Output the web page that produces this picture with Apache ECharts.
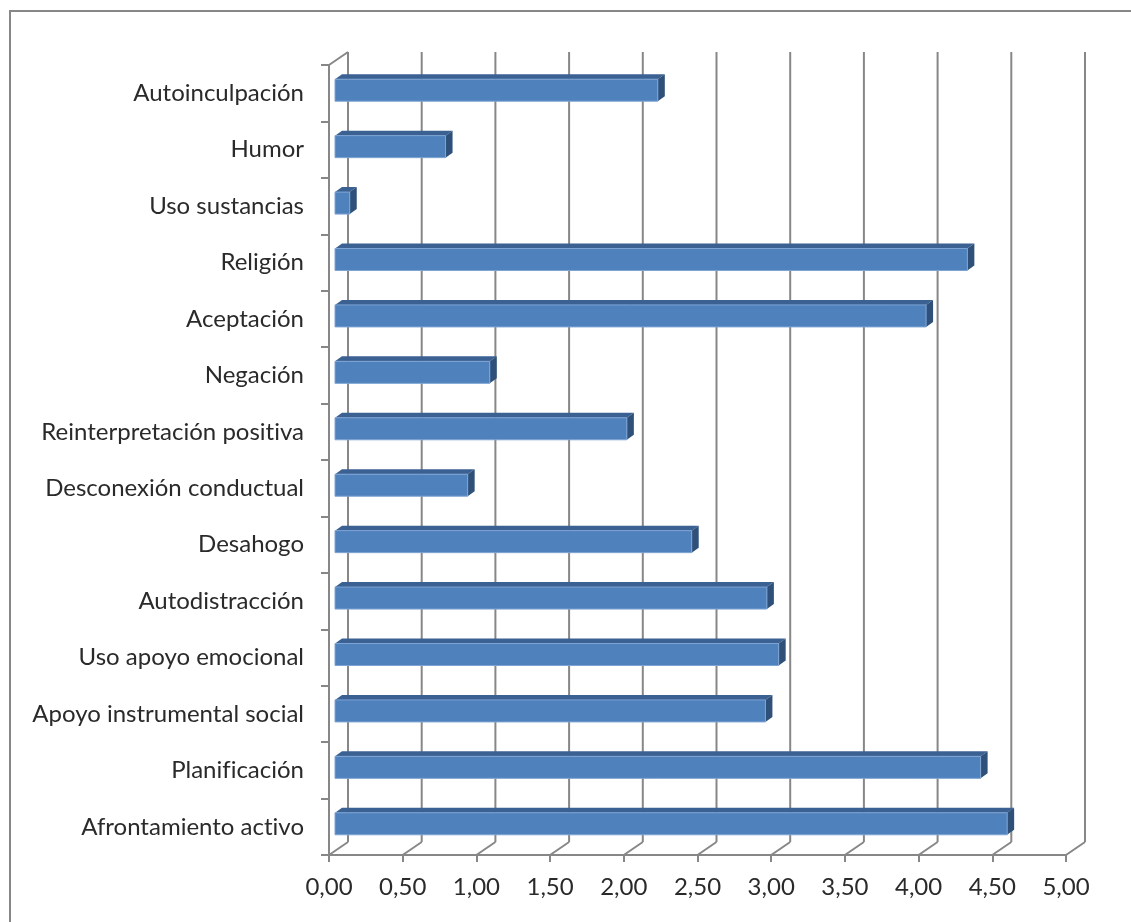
<!DOCTYPE html>
<html>
<head>
<meta charset="utf-8">
<script src="https://cdn.jsdelivr.net/npm/echarts@6/dist/echarts.min.js"></script>
<style>
  html, body { margin: 0; padding: 0; background: #ffffff; }
  #chart { width: 1131px; height: 922px; }
</style>
</head>
<body>
<div id="chart"></div>
<script>
// Coping strategies (bottom to top) and their mean scores
const categories = [
  'Afrontamiento activo',
  'Planificación',
  'Apoyo instrumental social',
  'Uso apoyo emocional',
  'Autodistracción',
  'Desahogo',
  'Desconexión conductual',
  'Reinterpretación positiva',
  'Negación',
  'Aceptación',
  'Religión',
  'Uso sustancias',
  'Humor',
  'Autoinculpación'
];
const values = [4.56, 4.38, 2.92, 3.01, 2.93, 2.42, 0.90, 1.98, 1.05, 4.01, 4.29, 0.10, 0.75, 2.19];

// Value-axis ticks
const tickValues = [0, 0.5, 1, 1.5, 2, 2.5, 3, 3.5, 4, 4.5, 5];
const formatTick = v => v.toFixed(2).replace('.', ',');
// Keep "fi" / "ti" as separate glyphs (no typographic ligatures)
const plainGlyphs = s => s.replace(/([ft])(i)/g, '$1\u200C$2');

// Oblique 3D look: offset of the back wall and of the bars
const WALL_DX = 19, WALL_DY = -13;
const BAR_FRONT_DX = 6, BAR_FRONT_DY = -3;
const BAR_DEPTH_DX = 7, BAR_DEPTH_DY = -5;
const BAR_HEIGHT_RATIO = 0.39;

const GRID_COLOR = '#878787';
const TEXT_COLOR = '#2a2a2a';
const FONT = 'Lato, "Open Sans", sans-serif';

const chart = echarts.init(document.getElementById('chart'), null, { renderer: 'canvas' });

// Back wall gridlines plus the floor diagonals joining them to the front axis
function renderWall(params, api) {
  const cs = params.coordSys;
  const v = api.value(0);
  const x = api.coord([v, 0])[0];
  const top = cs.y, bottom = cs.y + cs.height;
  const style = { stroke: GRID_COLOR, lineWidth: 2, fill: null };
  const children = [
    { type: 'line', shape: { x1: x + WALL_DX, y1: top + WALL_DY, x2: x + WALL_DX, y2: bottom + WALL_DY }, style },
    { type: 'line', shape: { x1: x, y1: bottom, x2: x + WALL_DX, y2: bottom + WALL_DY }, style }
  ];
  if (v === 0) {
    children.push({ type: 'line', shape: { x1: x, y1: top, x2: x + WALL_DX, y2: top + WALL_DY }, style });
  }
  return { type: 'group', children };
}

// Each bar as a box: front face, top face and right side face
function renderBar(params, api) {
  const v = api.value(0);
  const i = api.value(1);
  const p0 = api.coord([0, i]);
  const p1 = api.coord([v, i]);
  const band = api.size([0, 1])[1];
  const h = band * BAR_HEIGHT_RATIO;
  const x0 = p0[0] + BAR_FRONT_DX;
  const x1 = p1[0] + BAR_FRONT_DX;
  const yc = p0[1] + BAR_FRONT_DY;
  const y0 = yc - h / 2, y1 = yc + h / 2;
  return {
    type: 'group',
    children: [
      { type: 'polygon', shape: { points: [[x0, y0], [x1, y0], [x1 + BAR_DEPTH_DX, y0 + BAR_DEPTH_DY], [x0 + BAR_DEPTH_DX, y0 + BAR_DEPTH_DY]] },
        style: { fill: '#3b6193' } },
      { type: 'polygon', shape: { points: [[x1, y0], [x1 + BAR_DEPTH_DX, y0 + BAR_DEPTH_DY], [x1 + BAR_DEPTH_DX, y1 + BAR_DEPTH_DY], [x1, y1]] },
        style: { fill: '#2e5079' } },
      { type: 'rect', shape: { x: x0, y: y0, width: x1 - x0, height: h },
        style: { fill: '#4f81bd', stroke: '#7ea4d4', lineWidth: 1 } }
    ]
  };
}

chart.setOption({
  animation: false,
  backgroundColor: '#ffffff',
  graphic: [{
    type: 'rect',
    shape: { x: 10, y: 11, width: 1200, height: 1000 },
    style: { fill: null, stroke: GRID_COLOR, lineWidth: 2 },
    silent: true,
    z: -10
  }],
  grid: { left: 329, right: 65, top: 65, bottom: 67 },
  xAxis: {
    type: 'value',
    min: 0,
    max: 5,
    interval: 0.5,
    axisLine: { show: true, lineStyle: { color: GRID_COLOR, width: 2 } },
    axisTick: { show: true, length: 7, lineStyle: { color: GRID_COLOR, width: 2 } },
    splitLine: { show: false },
    axisLabel: {
      margin: 20,
      color: TEXT_COLOR,
      fontFamily: FONT,
      fontSize: 24,
      formatter: formatTick,
      showMinLabel: true,
      showMaxLabel: true
    }
  },
  yAxis: {
    type: 'category',
    data: categories,
    axisLine: { show: true, lineStyle: { color: GRID_COLOR, width: 2 } },
    axisTick: { show: true, length: 8, lineStyle: { color: GRID_COLOR, width: 2 } },
    splitLine: { show: false },
    axisLabel: {
      margin: 25,
      color: TEXT_COLOR,
      fontFamily: FONT,
      fontSize: 24,
      interval: 0,
      formatter: plainGlyphs
    }
  },
  series: [
    {
      type: 'custom',
      name: 'wall',
      silent: true,
      clip: false,
      z: 1,
      renderItem: renderWall,
      encode: { x: 0, y: 1 },
      data: tickValues.map(v => [v, 0])
    },
    {
      type: 'custom',
      name: 'bars',
      clip: false,
      z: 3,
      renderItem: renderBar,
      encode: { x: 0, y: 1 },
      data: values.map((v, i) => [v, i])
    }
  ]
});
</script>
</body>
</html>
